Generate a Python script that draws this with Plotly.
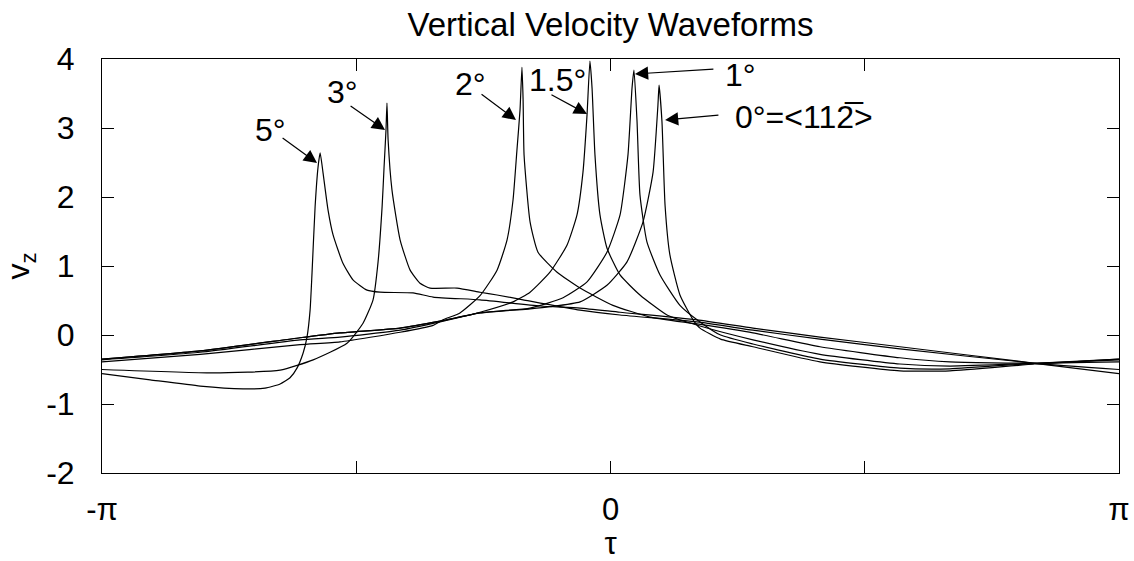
import math
import plotly.graph_objects as go

PI = math.pi

# ---- data (tau in radians, v_z) ----
tau_0 = [-PI, -2.535, -1.918, -1.671, -1.300, -1.053, -0.806, -0.497, -0.374, -0.188, -0.022, 0.102, 0.201,
         0.263, 0.293, 0.300, 0.318, 0.337, 0.367, 0.429, 0.510, 0.553, 0.680, 0.880, 1.294, 1.788, 2.097,
         2.622, PI]
vz_0 = [-0.35, -0.23, -0.04, 0.03, 0.10, 0.20, 0.32, 0.38, 0.41, 0.48, 0.72, 1.06, 1.64,
        2.36, 3.33, 3.62, 3.09, 1.88, 1.16, 0.58, 0.22, 0.10, -0.06, -0.17, -0.39, -0.52, -0.52,
        -0.42, -0.35]

tau_1 = [-PI, -2.535, -1.918, -1.671, -1.300, -1.053, -0.806, -0.497, -0.293, -0.145, -0.022, 0.059, 0.108,
         0.133, 0.145, 0.164, 0.182, 0.225, 0.306, 0.429, 0.553, 0.680, 0.880, 1.294, 1.788, 2.097, 2.622, PI]
vz_1 = [-0.35, -0.23, -0.04, 0.03, 0.10, 0.20, 0.32, 0.39, 0.54, 0.77, 1.20, 1.74, 2.61,
        3.58, 3.84, 3.09, 2.03, 1.35, 0.87, 0.43, 0.19, 0.00, -0.13, -0.35, -0.48, -0.49, -0.41, -0.35]

tau_15 = [-PI, -2.535, -1.918, -1.671, -1.300, -1.053, -0.806, -0.602, -0.497, -0.374, -0.269, -0.207, -0.170,
          -0.145, -0.127, -0.114, -0.096, -0.065, -0.022, 0.059, 0.182, 0.349, 0.553, 0.880, 1.294, 1.788,
          2.097, 2.622, PI]
vz_15 = [-0.36, -0.25, -0.07, -0.03, 0.07, 0.19, 0.33, 0.48, 0.62, 0.91, 1.30, 1.74, 2.36,
         3.19, 3.97, 3.58, 2.61, 1.74, 1.26, 0.87, 0.58, 0.29, 0.13, -0.07, -0.28, -0.42,
         -0.45, -0.41, -0.36]

tau_2 = [-PI, -2.535, -1.918, -1.671, -1.300, -1.096, -1.035, -0.930, -0.806, -0.701, -0.639, -0.602, -0.578,
         -0.559, -0.547, -0.540, -0.534, -0.497, -0.448, -0.330, -0.188, 0.015, 0.244, 0.534, 0.880, 1.294,
         1.788, 2.097, 2.622, PI]
vz_2 = [-0.39, -0.28, -0.14, -0.10, 0.04, 0.14, 0.22, 0.32, 0.57, 0.94, 1.38, 1.96, 2.68,
        3.26, 3.88, 3.41, 2.61, 1.64, 1.20, 0.91, 0.68, 0.43, 0.26, 0.16, 0.03, -0.17,
        -0.33, -0.39, -0.41, -0.39]

tau_3 = [-PI, -2.455, -2.041, -1.837, -1.628, -1.529, -1.467, -1.436, -1.411, -1.399, -1.387, -1.381, -1.374,
         -1.350, -1.300, -1.238, -1.177, -1.115, -0.948, -0.806, -0.701, -0.540, -0.188, 0.059, 0.534, 0.880,
         1.294, 1.788, 2.622, PI]
vz_3 = [-0.50, -0.55, -0.51, -0.36, -0.12, 0.17, 0.51, 1.06, 1.86, 2.43, 2.97, 3.36, 2.83,
        2.10, 1.38, 0.94, 0.75, 0.68, 0.68, 0.62, 0.58, 0.51, 0.36, 0.29, 0.19, 0.07,
        -0.06, -0.20, -0.41, -0.50]

tau_5 = [-PI, -2.844, -2.535, -2.270, -2.134, -2.041, -1.980, -1.937, -1.899, -1.875, -1.856, -1.844, -1.825,
         -1.807, -1.794, -1.776, -1.745, -1.714, -1.653, -1.591, -1.504, -1.424, -1.220, -1.096, -0.806, -0.435,
         -0.188, 0.059, 0.534, 0.880, 1.294, 1.788, 2.622, PI]
vz_5 = [-0.56, -0.65, -0.74, -0.78, -0.77, -0.71, -0.62, -0.48, -0.26, -0.03, 0.36, 0.90, 1.86,
        2.43, 2.64, 2.35, 1.81, 1.45, 1.04, 0.80, 0.65, 0.62, 0.61, 0.55, 0.51, 0.42,
        0.39, 0.33, 0.22, 0.10, -0.03, -0.17, -0.41, -0.56]

series = [(tau_0, vz_0), (tau_1, vz_1), (tau_15, vz_15), (tau_2, vz_2), (tau_3, vz_3), (tau_5, vz_5)]

x_tickvals = [-PI, -PI / 2, 0, PI / 2, PI]
x_ticktext = ["-\u03c0", "", "0", "", "\u03c0"]
y_tickvals = [-2, -1, 0, 1, 2, 3, 4]
y_ticktext = ["-2", "-1", "0", "1", "2", "3", "4"]

# labels: text, text position (x, y), anchor, arrow tail (x, y), arrow tip (x, y)
labels = [
    ("5\u00b0", -2.103, 2.971, "center", -2.035, 2.870, -1.813, 2.493),
    ("3\u00b0", -1.658, 3.522, "center", -1.615, 3.333, -1.393, 2.971),
    ("2\u00b0", -0.868, 3.638, "center", -0.806, 3.507, -0.584, 3.116),
    ("1.5\u00b0", -0.330, 3.696, "center", -0.374, 3.493, -0.145, 3.203),
    ("1\u00b0", 0.695, 3.768, "left", 0.645, 3.855, 0.151, 3.783),
    ("0\u00b0=<112\u0305>", 0.756, 3.159, "left", 0.676, 3.188, 0.337, 3.116),
]

FONT = "Arial, Liberation Sans, sans-serif"
FS = 32

fig = go.Figure()
for tx, vy in series:
    fig.add_trace(go.Scatter(x=tx, y=vy, mode="lines",
                             line=dict(color="black", width=1.2, shape="spline", smoothing=0.5),
                             showlegend=False, hoverinfo="skip"))

for text, lx, ly, anc, axx, ayy, tx_, ty_ in labels:
    fig.add_annotation(x=lx, y=ly, text=text, showarrow=False, xanchor=anc, yanchor="middle",
                       font=dict(family=FONT, size=FS, color="black"))
    fig.add_annotation(x=tx_, y=ty_, ax=axx, ay=ayy, axref="x", ayref="y", text="",
                       showarrow=True, arrowhead=2, arrowsize=2.2, arrowwidth=1.2,
                       arrowcolor="black", standoff=0)

fig.update_layout(
    width=1134, height=561,
    margin=dict(l=102, r=15, t=59, b=88, autoexpand=False),
    paper_bgcolor="white", plot_bgcolor="white",
    font=dict(family=FONT, size=FS, color="black"),
    title=dict(text="Vertical Velocity Waveforms", x=0.5, xref="paper", xanchor="center",
               y=1 - 24 / 561, yref="container", yanchor="middle",
               font=dict(family=FONT, size=33, color="black")),
)
fig.update_xaxes(range=[-PI, PI], tickvals=x_tickvals, ticktext=x_ticktext,
                 ticks="inside", ticklen=12, tickwidth=1, tickcolor="black",
                 showline=True, linecolor="black", linewidth=1, mirror="ticks",
                 showgrid=False, zeroline=False, ticklabelstandoff=9, automargin=False,
                 tickfont=dict(size=31),
                 title=dict(text="\u03c4", standoff=6, font=dict(size=31)))
fig.update_yaxes(range=[-2, 4], tickvals=y_tickvals, ticktext=y_ticktext,
                 ticks="inside", ticklen=12, tickwidth=1, tickcolor="black",
                 showline=True, linecolor="black", linewidth=1, mirror="ticks",
                 showgrid=False, zeroline=False, ticklabelstandoff=20, automargin=False,
                 title=dict(text="v<sub>z</sub>", standoff=8, font=dict(size=FS)))

fig.write_html("out.html", config={"displayModeBar": False},
               post_script="document.body.style.margin='0';document.body.style.overflow='hidden';")
